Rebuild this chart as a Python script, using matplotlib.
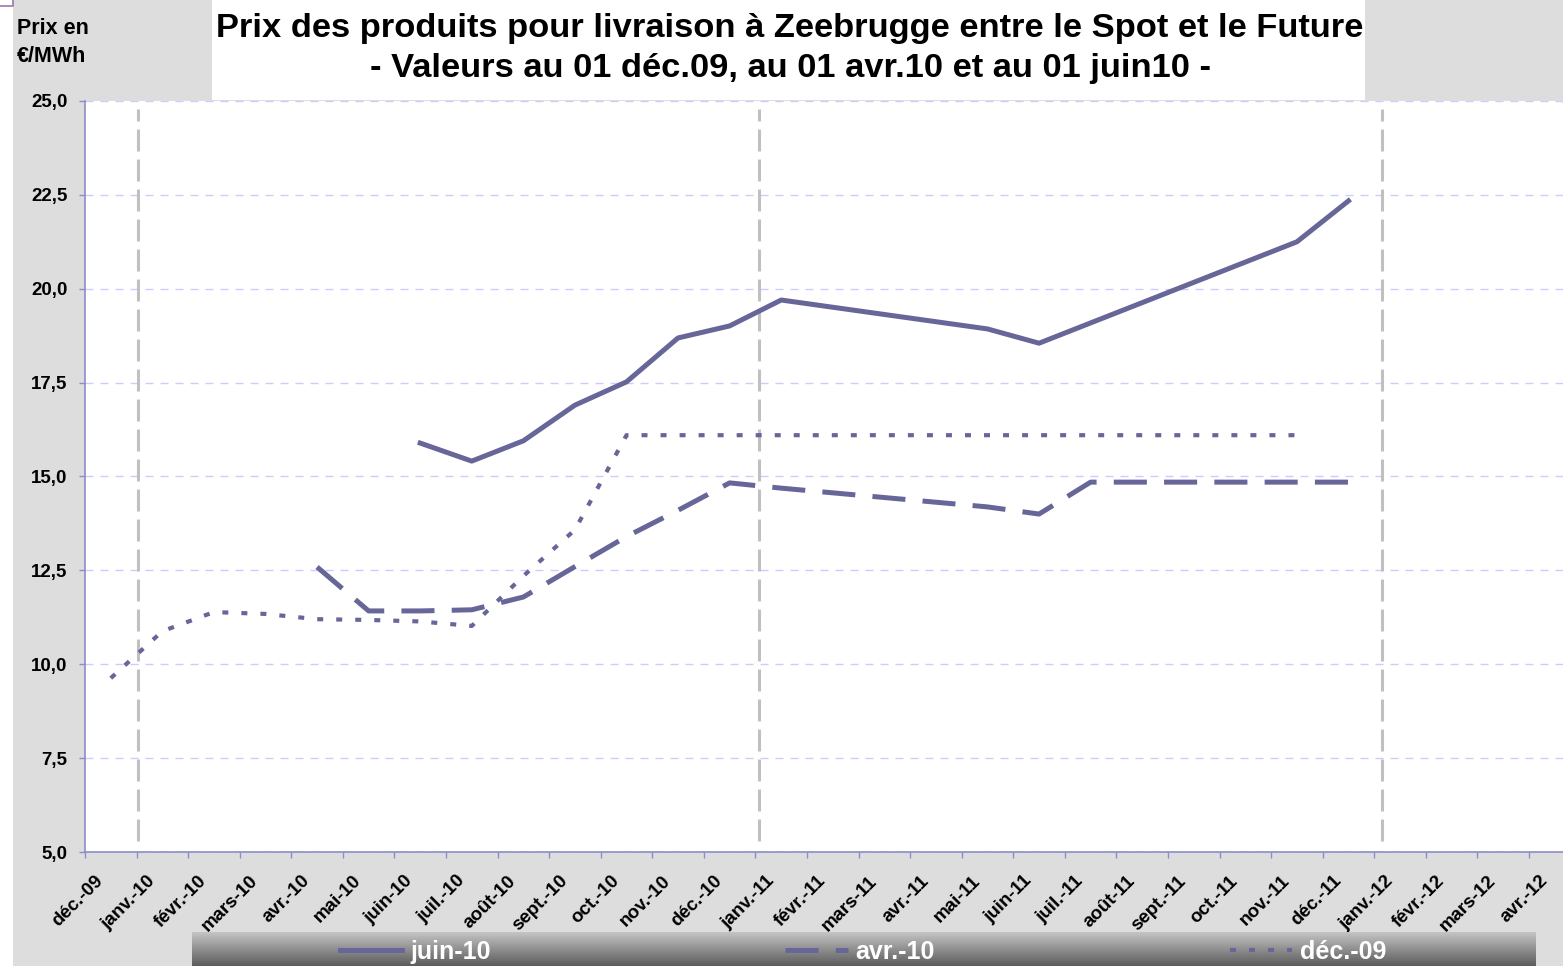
import matplotlib
matplotlib.use("Agg")
import matplotlib.pyplot as plt
from matplotlib.colors import LinearSegmentedColormap
from matplotlib.patches import Rectangle
from matplotlib.ticker import FuncFormatter, FixedLocator, FixedFormatter, NullFormatter
import numpy as np

plt.rcParams['font.family'] = ['Liberation Sans', 'DejaVu Sans']
plt.rcParams['font.weight'] = 'bold'
plt.rcParams['lines.scale_dashes'] = False

# axis months (ticks at month start)
months = ["déc.-09", "janv.-10", "févr.-10", "mars-10", "avr.-10", "mai-10", "juin-10",
          "juil.-10", "août-10", "sept.-10", "oct.-10", "nov.-10", "déc.-10", "janv.-11",
          "févr.-11", "mars-11", "avr.-11", "mai-11", "juin-11", "juil.-11", "août-11",
          "sept.-11", "oct.-11", "nov.-11", "déc.-11", "janv.-12", "févr.-12", "mars-12",
          "avr.-12"]

# price curves: index of delivery month in "months", price in EUR/MWh
juin10_idx = [6, 7, 8, 9, 10, 11, 12, 13, 17, 18, 23, 24]
juin10_val = [15.89, 15.41, 15.95, 16.90, 17.52, 18.69, 19.01, 19.70, 18.93, 18.55, 21.25, 22.34]

avr10_idx = [4, 5, 6, 7, 8, 9, 10, 11, 12, 13, 17, 18, 19, 24]
avr10_val = [12.59, 11.42, 11.42, 11.45, 11.79, 12.6, 13.4, 14.1, 14.83, 14.69, 14.19, 14.00, 14.85, 14.85]

dec09_idx = list(range(0, 24))
dec09_val = [9.63, 10.88, 11.39, 11.34, 11.20, 11.18, 11.14, 11.02, 12.35, 13.58, 16.1, 16.1,
             16.1, 16.1, 16.1, 16.1, 16.1, 16.1, 16.1, 16.1, 16.1, 16.1, 16.1, 16.1]

# year separators (1 janvier)
year_lines = [1.03, 13.07, 25.15]

series_color = '#666699'
axis_color = '#8C8CC8'
px_per_month = 51.57

fig = plt.figure(figsize=(15.63, 9.66), dpi=100, facecolor='#DDDDDD')

# white strip on the left, white title box
fig.patches.append(Rectangle((0, 0), 13 / 1563, 1, transform=fig.transFigure,
                             facecolor='white', edgecolor='none', zorder=0))
fig.patches.append(Rectangle((212 / 1563, 1 - 100 / 966), 1153 / 1563, 100 / 966,
                             transform=fig.transFigure, facecolor='white',
                             edgecolor='none', zorder=0))
fig.lines.append(plt.Line2D([0, 13 / 1563, 13 / 1563], [1 - 6 / 966, 1 - 6 / 966, 1],
                            transform=fig.transFigure, color='#9977AA', lw=1.2))

ax = fig.add_axes([85 / 1563, 114 / 966, 1478 / 1563, 751 / 966])
ax.set_facecolor('white')

x_mid = 0.5  # products plotted at mid-month
ax.plot(np.array(juin10_idx) + x_mid, juin10_val, color=series_color, lw=3.6,
        solid_joinstyle='round', label='juin-10', zorder=4)
ax.plot(np.array(avr10_idx) + x_mid, avr10_val, color=series_color, lw=3.6,
        dashes=(23.8, 12.4), label='avr.-10', zorder=4)
ax.plot(np.array(dec09_idx) + x_mid, dec09_val, color=series_color, lw=3.0,
        dashes=(4.3, 9.4), label='déc.-09', zorder=4)

for xv in year_lines:
    ax.axvline(xv, ymin=0.015, ymax=0.99, color='#C0C0C0', lw=2.2,
               dashes=(15.8, 5.8), zorder=2)

ax.set_xlim(0, 1478 / px_per_month)
ax.set_ylim(5, 25)
ax.set_yticks(np.arange(5, 25.01, 2.5))
ax.yaxis.set_major_formatter(FuncFormatter(lambda v, p: f"{v:.1f}".replace('.', ',')))
ax.grid(axis='y', color='#CCCCFF', lw=1.0, dashes=(5.8, 5.0), zorder=1)

# tick marks at month starts, labels slightly to the right (Excel style)
ax.xaxis.set_major_locator(FixedLocator(range(len(months))))
ax.xaxis.set_major_formatter(NullFormatter())
label_shift = 16 / px_per_month
ax.xaxis.set_minor_locator(FixedLocator(np.arange(len(months)) + label_shift))
ax.xaxis.set_minor_formatter(FixedFormatter(months))
ax.tick_params(axis='x', which='major', direction='out', length=4, width=1, color=axis_color)
ax.tick_params(axis='x', which='minor', length=0, pad=19, labelsize=13.5)
for lbl in ax.get_xticklabels(minor=True):
    lbl.set_rotation(45)
    lbl.set_ha('right')
    lbl.set_va('center')
    lbl.set_rotation_mode('anchor')
    lbl.set_fontweight('bold')

ax.tick_params(axis='y', direction='out', length=4, width=1, color=axis_color,
               pad=8.5, labelsize=13.5)
for lbl in ax.get_yticklabels():
    lbl.set_fontweight('bold')

for s in ['top', 'right']:
    ax.spines[s].set_visible(False)
for s in ['left', 'bottom']:
    ax.spines[s].set_color(axis_color)
    ax.spines[s].set_linewidth(1.2)

# titles
fig.text(790 / 1563, 1 - 28 / 966,
         "Prix des produits pour livraison à Zeebrugge entre le Spot et le Future",
         ha='center', va='center', fontsize=24.8, fontweight='bold')
fig.text(790 / 1563, 1 - 69 / 966,
         "- Valeurs au 01 déc.09, au 01 avr.10 et au 01 juin10 -",
         ha='center', va='center', fontsize=24.8, fontweight='bold')
fig.text(17 / 1563, 1 - 28 / 966, "Prix en", ha='left', va='center',
         fontsize=15.5, fontweight='bold')
fig.text(17 / 1563, 1 - 57 / 966, "€/MWh", ha='left', va='center',
         fontsize=15.5, fontweight='bold')

# legend bar with gradient
lax = fig.add_axes([192 / 1563, 0, 1344 / 1563, 34 / 966])
grad = np.linspace(0, 1, 64).reshape(-1, 1)
cmap = LinearSegmentedColormap.from_list('bar', ['#C4C4C4', '#5C5C5C'])
lax.imshow(grad, aspect='auto', cmap=cmap, extent=(0, 1, 0, 1))
lax.axis('off')

handles, labels = ax.get_legend_handles_labels()
leg = fig.legend(handles, labels, loc='center', bbox_to_anchor=(863 / 1563, 1 - 952 / 966),
                 ncol=3, frameon=False, fontsize=18, handlelength=2.5,
                 handletextpad=0.3, columnspacing=11.8, borderpad=0)
for t in leg.get_texts():
    t.set_color('white')
    t.set_fontweight('bold')

fig.savefig('out.png', dpi=100, facecolor=fig.get_facecolor())
